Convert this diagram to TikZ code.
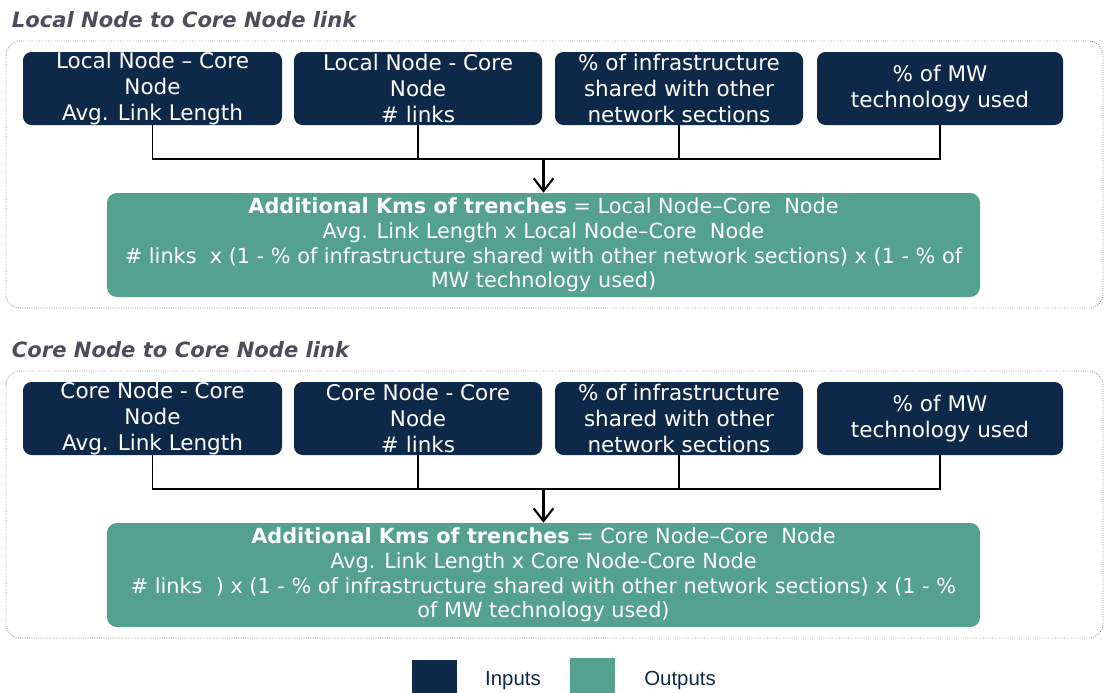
\documentclass[tikz,border=0pt]{standalone}
\usepackage{fontspec}
\setmainfont{DejaVu Sans}
\newfontfamily\legendfont{Liberation Sans}
\usetikzlibrary{arrows.meta}

\definecolor{inblue}{RGB}{14,40,74}
\definecolor{outgreen}{RGB}{84,161,142}
\definecolor{titlegray}{RGB}{77,77,92}

\tikzset{
	inbox/.style={fill=inblue, text=white, rounded corners=6pt, inner sep=0pt, align=center,
		minimum height=73*0.025cm, font=\fontsize{15.3}{18.3}\selectfont},
	outbox/.style={fill=outgreen, text=white, rounded corners=7pt, inner sep=0pt, align=center,
		minimum width=873*0.025cm, minimum height=104*0.025cm, font=\fontsize{14.8}{17.5}\selectfont},
	frame/.style={draw=gray!85, densely dotted, line width=0.6pt, rounded corners=10pt},
	sectitle/.style={anchor=west, text=titlegray, font=\fontsize{15}{18}\selectfont\bfseries\itshape},
	link/.style={draw=black, line width=0.9pt},
	feed/.style={draw=black, line width=1.5pt, -{Straight Barb[length=9pt, width=14pt]}},
	legtext/.style={text=inblue, font=\legendfont\fontsize{14.5}{17}\selectfont}
}

\begin{document}
\begin{tikzpicture}[x=0.025cm, y=-0.025cm]
	\useasboundingbox (0,0) rectangle (1105,692);

	% local node to core node
	\node[sectitle] (title1) at (7,20) {Local Node to Core Node link};
	\draw[frame] (6,41) rectangle (1103,308);

	\node[inbox, minimum width=259*0.025cm] (in1) at (152.5,88.5) {Local Node – Core\\Node\\Avg. Link Length};
	\node[inbox, minimum width=248*0.025cm] (in2) at (418,88.5) {Local Node - Core\\Node\\\# links};
	\node[inbox, minimum width=248*0.025cm] (in3) at (679,88.5) {\% of infrastructure\\shared with other\\network sections};
	\node[inbox, minimum width=246*0.025cm] (in4) at (940,88.5) {\% of MW\\technology used};

	\node[outbox] (out1) at (543.5,245) {\textbf{Additional Kms of trenches} = Local Node–Core~ Node\\
		Avg. Link Length x Local Node–Core~ Node\\
		\# links~ x (1 - \% of infrastructure shared with other network sections) x (1 - \% of\\
		MW technology used)};

	\coordinate (J1) at (543.5,159); % join 1

	\draw[link] (in1.south) -- (in1.south |- J1) -- (in4.south |- J1) -- (in4.south);
	\draw[link] (in2.south) -- (in2.south |- J1);
	\draw[link] (in3.south) -- (in3.south |- J1);
	\draw[feed] (J1) -- (out1.north);

	% core node to core node
	\node[sectitle] (title2) at (7,350) {Core Node to Core Node link};
	\draw[frame] (6,371) rectangle (1103,638);

	\node[inbox, minimum width=259*0.025cm] (in5) at (152.5,418.5) {Core Node - Core\\Node\\Avg. Link Length};
	\node[inbox, minimum width=248*0.025cm] (in6) at (418,418.5) {Core Node - Core\\Node\\\# links};
	\node[inbox, minimum width=248*0.025cm] (in7) at (679,418.5) {\% of infrastructure\\shared with other\\network sections};
	\node[inbox, minimum width=246*0.025cm] (in8) at (940,418.5) {\% of MW\\technology used};

	\node[outbox] (out2) at (543.5,575) {\textbf{Additional Kms of trenches} = Core Node–Core~ Node\\
		Avg. Link Length x Core Node-Core Node\\
		\# links~ ) x (1 - \% of infrastructure shared with other network sections) x (1 - \%\\
		of MW technology used)};

	\coordinate (J2) at (543.5,489); % join 2

	\draw[link] (in5.south) -- (in5.south |- J2) -- (in8.south |- J2) -- (in8.south);
	\draw[link] (in6.south) -- (in6.south |- J2);
	\draw[link] (in7.south) -- (in7.south |- J2);
	\draw[feed] (J2) -- (out2.north);

	% legend
	\node[fill=inblue, minimum width=45*0.025cm, minimum height=33*0.025cm, inner sep=0pt] (legin) at (434.5,676) {};
	\node[legtext] (legintext) at (513,681) {Inputs};
	\node[fill=outgreen, minimum width=45*0.025cm, minimum height=35*0.025cm, inner sep=0pt] (legout) at (592.5,675) {};
	\node[legtext] (legouttext) at (680,680) {Outputs};
\end{tikzpicture}
\end{document}
